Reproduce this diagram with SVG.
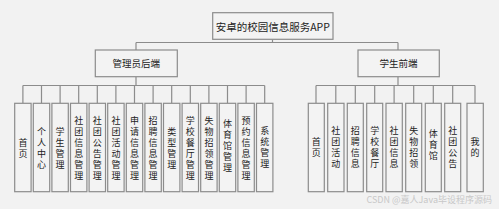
<svg xmlns="http://www.w3.org/2000/svg" width="499" height="209" viewBox="0 0 499 209">
<style>
.bg{fill:#f2f2f2}
.box{fill:#f3f3f3;stroke:#8c8c8c;stroke-width:1.2}
.ln{fill:none;stroke:#8c8c8c;stroke-width:1.2}
.t{font-family:"Noto Sans CJK SC","Noto Sans",sans-serif;fill:#222;text-anchor:middle;dominant-baseline:central}
.v{font-family:"Noto Sans CJK SC",sans-serif;fill:#222;font-size:9px;text-anchor:middle;dominant-baseline:central}
.wm{font-family:"Noto Sans CJK SC","Noto Sans",sans-serif;fill:#c8c8c8;font-size:9px;text-anchor:end}
</style>
<rect class="bg" x="0" y="0" width="499" height="209"/>
<g id="connectors">
<path class="ln" d="M272.5,39.5 V42.5 M136,42.5 H398 M136,42.5 V50 M398,42.5 V50"/>
<path class="ln" d="M136,76.7 V85.5 M22.9,85.5 H264.7"/>
<path class="ln" d="M22.9,85.5 V103.3 M41.5,85.5 V103.3 M60.1,85.5 V103.3 M78.7,85.5 V103.3 M97.3,85.5 V103.3 M115.9,85.5 V103.3 M134.5,85.5 V103.3 M153.1,85.5 V103.3 M171.7,85.5 V103.3 M190.3,85.5 V103.3 M208.9,85.5 V103.3 M227.5,85.5 V103.3 M246.1,85.5 V103.3 M264.7,85.5 V103.3"/>
<path class="ln" d="M398,76.7 V85.5 M316,85.5 H475"/>
<path class="ln" d="M316,85.5 V103.3 M335.8,85.5 V103.3 M355.3,85.5 V103.3 M374.7,85.5 V103.3 M394.1,85.5 V103.3 M413.7,85.5 V103.3 M433.3,85.5 V103.3 M452.7,85.5 V103.3 M475,85.5 V103.3"/>
</g>
<g id="root"><rect class="box" x="212.7" y="12.7" width="120.3" height="26.6"/><text class="t" x="272.8" y="26" font-size="10.5">安卓的校园信息服务APP</text></g>
<g id="admin"><rect class="box" x="95.3" y="50" width="82" height="26.7"/><text class="t" x="136.3" y="63.3" font-size="9.5">管理员后端</text></g>
<g id="student"><rect class="box" x="358" y="50" width="81.3" height="26.7"/><text class="t" x="398.6" y="63.3" font-size="9.5">学生前端</text></g>
<g id="a1"><rect class="box" x="14.7" y="103.3" width="16.4" height="88.4"/><text class="v" x="22.9 22.9" y="142 153">首页</text></g>
<g id="a2"><rect class="box" x="33.3" y="103.3" width="16.4" height="88.4"/><text class="v" x="41.5 41.5 41.5 41.5" y="131 142 153 164">个人中心</text></g>
<g id="a3"><rect class="box" x="51.9" y="103.3" width="16.4" height="88.4"/><text class="v" x="60.1 60.1 60.1 60.1" y="131 142 153 164">学生管理</text></g>
<g id="a4"><rect class="box" x="70.5" y="103.3" width="16.4" height="88.4"/><text class="v" x="78.7 78.7 78.7 78.7 78.7 78.7" y="120 131 142 153 164 175">社团信息管理</text></g>
<g id="a5"><rect class="box" x="89.1" y="103.3" width="16.4" height="88.4"/><text class="v" x="97.3 97.3 97.3 97.3 97.3 97.3" y="120 131 142 153 164 175">社团公告管理</text></g>
<g id="a6"><rect class="box" x="107.7" y="103.3" width="16.4" height="88.4"/><text class="v" x="115.9 115.9 115.9 115.9 115.9 115.9" y="120 131 142 153 164 175">社团活动管理</text></g>
<g id="a7"><rect class="box" x="126.3" y="103.3" width="16.4" height="88.4"/><text class="v" x="134.5 134.5 134.5 134.5 134.5 134.5" y="120 131 142 153 164 175">申请信息管理</text></g>
<g id="a8"><rect class="box" x="144.9" y="103.3" width="16.4" height="88.4"/><text class="v" x="153.1 153.1 153.1 153.1 153.1 153.1" y="120 131 142 153 164 175">招聘信息管理</text></g>
<g id="a9"><rect class="box" x="163.5" y="103.3" width="16.4" height="88.4"/><text class="v" x="171.7 171.7 171.7 171.7" y="131 142 153 164">类型管理</text></g>
<g id="a10"><rect class="box" x="182.1" y="103.3" width="16.4" height="88.4"/><text class="v" x="190.3 190.3 190.3 190.3 190.3 190.3" y="120 131 142 153 164 175">学校餐厅管理</text></g>
<g id="a11"><rect class="box" x="200.7" y="103.3" width="16.4" height="88.4"/><text class="v" x="208.9 208.9 208.9 208.9 208.9 208.9" y="120 131 142 153 164 175">失物招领管理</text></g>
<g id="a12"><rect class="box" x="219.3" y="103.3" width="16.4" height="88.4"/><text class="v" x="227.5 227.5 227.5 227.5 227.5" y="123 134 145 156 167">体育馆管理</text></g>
<g id="a13"><rect class="box" x="237.9" y="103.3" width="16.4" height="88.4"/><text class="v" x="246.1 246.1 246.1 246.1 246.1 246.1" y="120 131 142 153 164 175">预约信息管理</text></g>
<g id="a14"><rect class="box" x="256.5" y="103.3" width="16.4" height="88.4"/><text class="v" x="264.7 264.7 264.7 264.7" y="130 141 152 163">系统管理</text></g>
<g id="s1"><rect class="box" x="308.3" y="103.3" width="16" height="88.4"/><text class="v" x="316.3 316.3" y="141 152">首页</text></g>
<g id="s2"><rect class="box" x="327.7" y="103.3" width="16.3" height="88.4"/><text class="v" x="335.8 335.8 335.8 335.8" y="130 141 152 163">社团活动</text></g>
<g id="s3"><rect class="box" x="347.3" y="103.3" width="16" height="88.4"/><text class="v" x="355.3 355.3 355.3 355.3" y="130 141 152 163">招聘信息</text></g>
<g id="s4"><rect class="box" x="366.7" y="103.3" width="16" height="88.4"/><text class="v" x="374.7 374.7 374.7 374.7" y="130 141 152 163">学校餐厅</text></g>
<g id="s5"><rect class="box" x="386" y="103.3" width="16.3" height="88.4"/><text class="v" x="394.1 394.1 394.1 394.1" y="130 141 152 163">社团信息</text></g>
<g id="s6"><rect class="box" x="405.7" y="103.3" width="16" height="88.4"/><text class="v" x="413.7 413.7 413.7 413.7" y="130 141 152 163">失物招领</text></g>
<g id="s7"><rect class="box" x="425.3" y="103.3" width="16" height="88.4"/><text class="v" x="433.3 433.3 433.3" y="133 144 155">体育馆</text></g>
<g id="s8"><rect class="box" x="444.7" y="103.3" width="16" height="88.4"/><text class="v" x="452.7 452.7 452.7 452.7" y="130 141 152 163">社团公告</text></g>
<g id="s9"><rect class="box" x="467" y="103.3" width="16.3" height="88.4"/><text class="v" x="475.1 475.1" y="141 152">我的</text></g>
<text class="wm" x="492" y="203">CSDN @嘉人Java毕设程序源码</text>
</svg>
